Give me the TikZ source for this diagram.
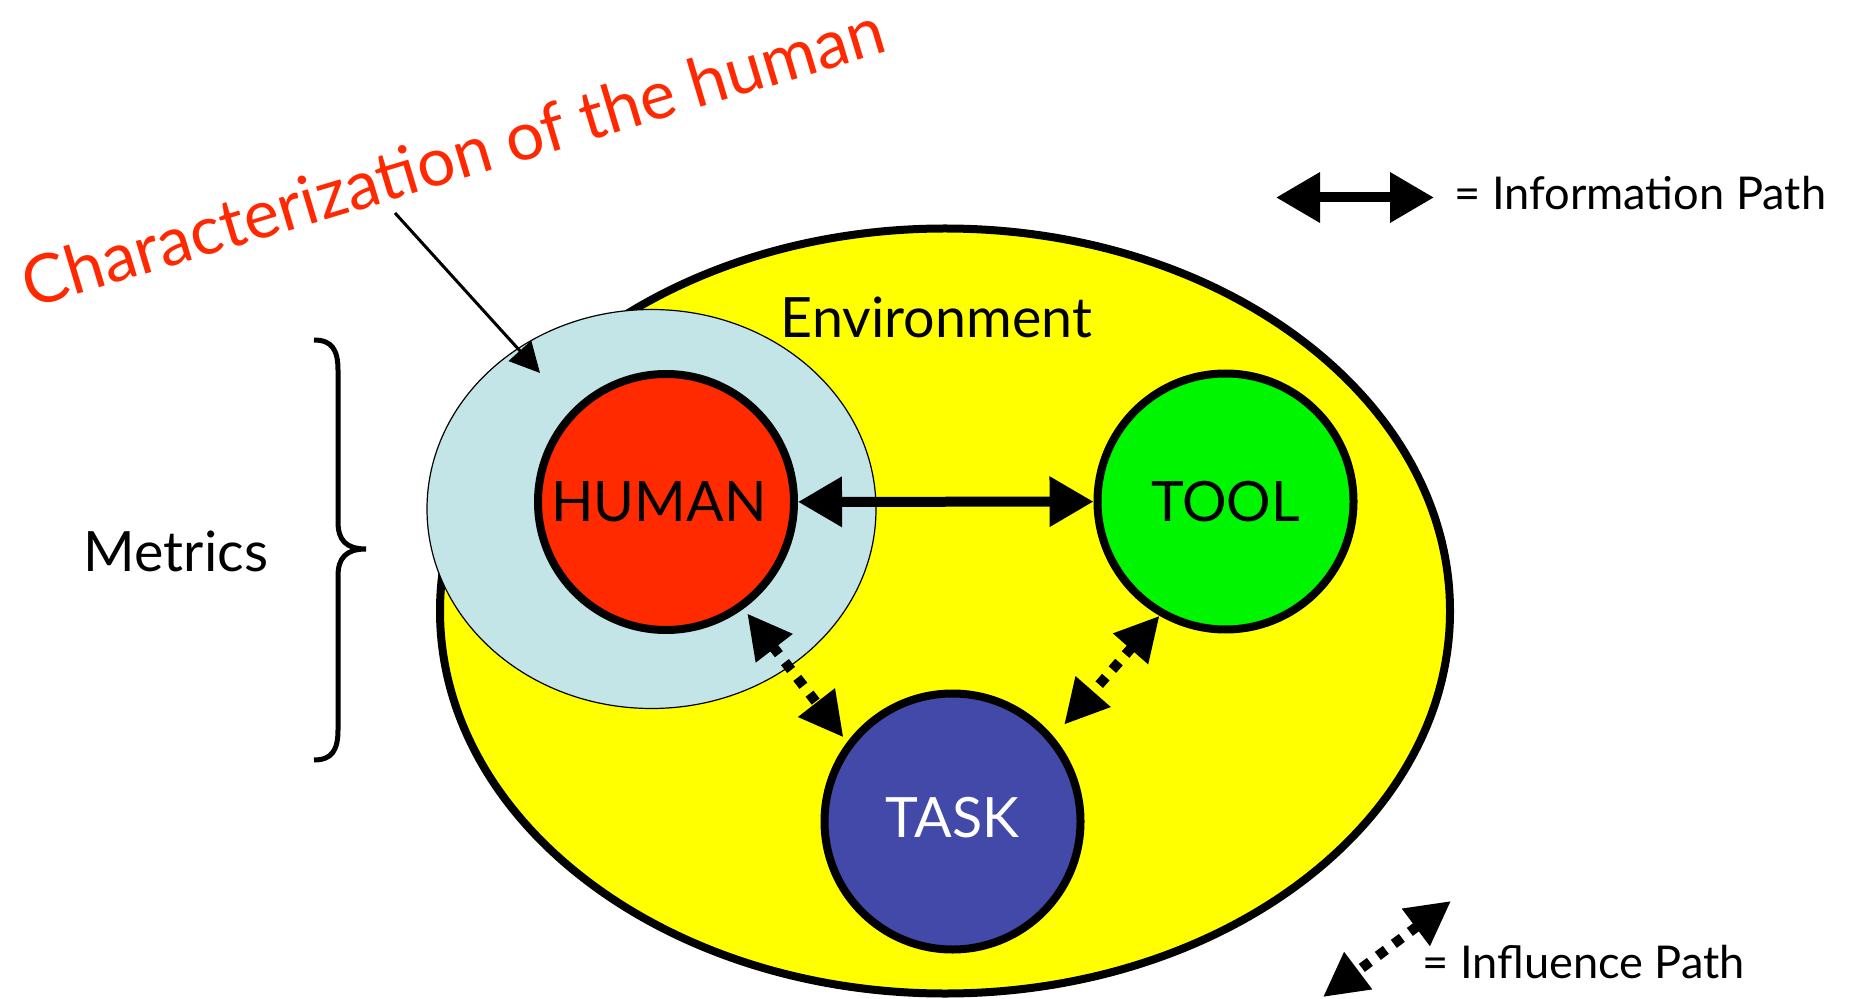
\documentclass[tikz,border=0pt]{standalone}
\usepackage{fontspec}
\setmainfont{Lato}
\usetikzlibrary{arrows.meta,shapes.geometric}
\definecolor{envyellow}{RGB}{255,255,0}
\definecolor{humanred}{RGB}{255,42,0}
\definecolor{toolgreen}{RGB}{0,245,0}
\definecolor{taskblue}{RGB}{67,73,168}
\definecolor{charblue}{RGB}{195,229,232}
\definecolor{labelred}{RGB}{255,40,0}
\begin{document}
\begin{tikzpicture}[x=0.5pt,y=-0.5pt,
  bigtext/.style={font=\fontsize{27.8pt}{30pt}\selectfont, inner sep=0pt},
  legtext/.style={font=\fontsize{22.6pt}{25pt}\selectfont, inner sep=0pt},
  agent/.style={circle, draw=black, line width=4pt, minimum size=128pt, inner sep=0pt,
    font=\fontsize{27.8pt}{30pt}\selectfont},
  infoarrow/.style={line width=5pt, {Triangle[length=22pt,width=24pt]}-{Triangle[length=22pt,width=24pt]}},
  inflarrow/.style={line width=5pt, dash pattern=on 5pt off 5pt,
    {Triangle[length=22pt,width=22pt]}-{Triangle[length=22pt,width=22pt]}},
  pointer/.style={line width=1.5pt, -{Triangle[length=15pt,width=15pt]}}]
\fill[white] (0,0) rectangle (1851,999);
\useasboundingbox (0,0) rectangle (1851,999);

% environment
\node[ellipse, draw=black, fill=envyellow, line width=4pt, minimum width=505pt,
  minimum height=382.5pt, inner sep=0pt] (env) at (945,611) {};
% characterization ellipse
\node[ellipse, draw=black, fill=charblue, line width=0.6pt, minimum width=224.5pt,
  minimum height=199.5pt, inner sep=0pt] (charac) at (651.5,509) {};

% agents
\node[agent, fill=humanred] (human) at (666,502) {\hspace*{-7pt}HUMAN};
\node[agent, fill=toolgreen] (tool) at (1225.5,501.5) {TOOL};
\node[agent, fill=taskblue, text=white] (task) at (952.5,821.5) {\raisebox{4pt}{TASK}};

% paths
\draw[infoarrow] (human) -- (tool);
\draw[inflarrow, shorten <=3pt, shorten >=3pt] (human.-54) -- (task.143);
\draw[inflarrow, shorten >=8pt] (tool.-120) -- (task.40);

% labels
\node[bigtext, anchor=base] (envlabel) at (936.5,338) {Environment};
\node[bigtext, anchor=base] (metrics) at (176,571) {Metrics};

% brace
\draw[line width=2.5pt] (314,340) .. controls (332,340) and (338,350) .. (338,370)
  -- (338,522) .. controls (338,540) and (346,549) .. (366,549)
  .. controls (346,549) and (338,558) .. (338,576)
  -- (338,730) .. controls (338,750) and (332,760) .. (314,760);

% characterization label
\node[anchor=base west, rotate=16.7, inner sep=0pt, text=labelred,
  font=\fontsize{33.6pt}{36pt}\selectfont] (charlabel) at (30.5,308.6) {Characterization of the human};
\coordinate (ptrstart) at (395,213);
\coordinate (ptrend) at (540,373);
\draw[pointer] (ptrstart) -- (ptrend);

% legend
\coordinate (infoL) at (1276,197.5);
\coordinate (infoR) at (1434,197.5);
\draw[infoarrow] (infoL) -- (infoR);
\node[legtext, anchor=base west] (infolabel) at (1454,210) {= Information Path};
\coordinate (inflA) at (1451,901);
\coordinate (inflB) at (1323,997);
\draw[inflarrow] (inflA) -- (inflB);
\node[legtext, anchor=base west] (infllabel) at (1422,978) {= Influence Path};
\end{tikzpicture}
\end{document}
